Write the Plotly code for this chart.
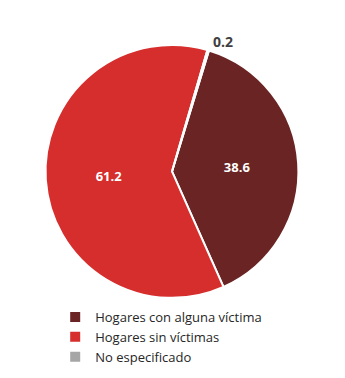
import plotly.graph_objects as go

categories = ["Hogares con alguna víctima", "Hogares sin víctimas", "No especificado"]
values = [38.6, 61.2, 0.2]
colors = ["#6B2424", "#D62D2D", "#A6A6A6"]

fig = go.Figure(go.Pie(
    labels=categories,
    values=values,
    sort=False,
    direction="clockwise",
    rotation=17,
    marker=dict(colors=colors, line=dict(color="white", width=2)),
    texttemplate="<b>%{value:.1f}</b>",
    textposition=["inside", "inside", "outside"],
    insidetextorientation="horizontal",
    textfont=dict(family="Open Sans", size=13, color=["white", "white", "#404040"]),
    outsidetextfont=dict(family="Open Sans", size=14, color="#404040"),
    hoverinfo="label+value",
    domain=dict(x=[0.130, 0.867], y=[0.212, 0.881]),
))

fig.update_layout(
    width=345, height=378,
    margin=dict(l=0, r=0, t=0, b=0),
    paper_bgcolor="white",
    showlegend=True,
    legend=dict(x=0.16, y=0.201, xanchor="left", yanchor="top",
                font=dict(family="Open Sans", size=13, color="#262626"),
                itemwidth=30, tracegroupgap=0),
)
fig.write_html("out.html")
